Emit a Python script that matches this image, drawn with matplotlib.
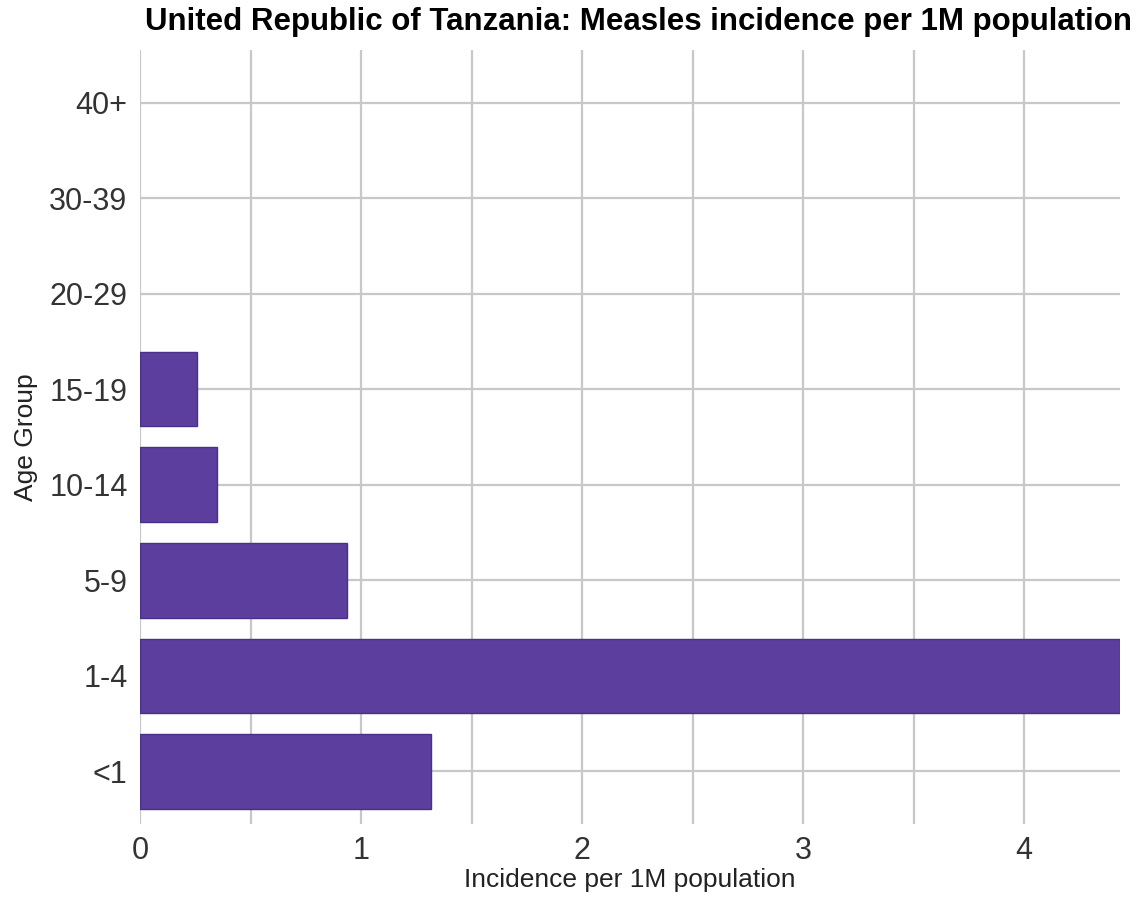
import matplotlib
matplotlib.use("Agg")
from matplotlib import pyplot as plt

plt.rcParams['font.family'] = ['Liberation Sans', 'DejaVu Sans']

age_groups = ['<1', '1-4', '5-9', '10-14', '15-19', '20-29', '30-39', '40+']
incidence = [1.317, 4.434, 0.937, 0.348, 0.258, 0, 0, 0]
x_ticks = [0, 1, 2, 3, 4]


def main():
    fig = plt.figure(figsize=(11.41, 8.97), dpi=100)
    ax = fig.add_axes([0.1227, 0.0814, 0.8589, 0.8629])

    pos = list(range(len(age_groups)))
    bars = ax.barh(pos, incidence, height=0.78, color='#5c3e9e',
                   edgecolor='#4a3088', linewidth=1, zorder=3)
    # no outline for empty groups
    for b, v in zip(bars, incidence):
        if v == 0:
            b.set_linewidth(0)

    ax.set_xlim(0, max(incidence))
    ax.set_ylim(-0.55, len(age_groups) - 0.45)
    ax.set_yticks(pos)
    ax.set_yticklabels(age_groups)
    ax.set_xticks(x_ticks)
    ax.set_xticks([0.5, 1.5, 2.5, 3.5], minor=True)

    ax.grid(True, which='both', color='#c8c8c8', linewidth=1.6, zorder=0)
    ax.set_axisbelow(True)
    for s in ax.spines.values():
        s.set_visible(False)
    ax.tick_params(which='both', length=0, labelsize=22, colors='#333333', pad=9)

    ax.set_xlabel('Incidence per 1M population', fontsize=19, color='#222222', labelpad=1)
    ax.set_ylabel('Age Group', fontsize=19, color='#222222', labelpad=8)
    fig.text(0.56, 0.975, 'United Republic of Tanzania: Measles incidence per 1M population',
             fontsize=22.5, fontweight='bold', ha='center', va='center')

    fig.savefig('out.png', dpi=100)


main()
